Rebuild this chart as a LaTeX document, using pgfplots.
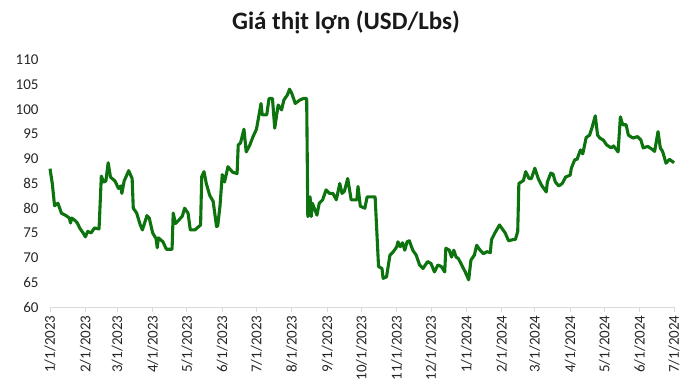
\documentclass[border=0pt]{standalone}
\usepackage{fontspec}
\setmainfont{Carlito}
\usepackage{pgfplots}
\pgfplotsset{compat=1.18}
\definecolor{lg}{RGB}{12,115,14}
\definecolor{axc}{RGB}{217,217,217}
\begin{document}
\begin{tikzpicture}
\path[use as bounding box] (-50pt,-83pt) rectangle (650pt,307pt);
\begin{axis}[
  at={(0pt,0pt)}, anchor=south west,
  scale only axis, width=624pt, height=247pt,
  xmin=0, xmax=547, ymin=60, ymax=110,
  axis x line=bottom, axis y line=left,
  x axis line style={-, draw=axc, line width=0.8pt},
  y axis line style={draw=none},
  ytick={60,65,...,110},
  xtick={0,31,59,90,120,151,181,212,243,273,304,334,365,396,425,456,486,517,547},
  xticklabels={1/1/2023,2/1/2023,3/1/2023,4/1/2023,5/1/2023,6/1/2023,7/1/2023,8/1/2023,9/1/2023,10/1/2023,11/1/2023,12/1/2023,1/1/2024,2/1/2024,3/1/2024,4/1/2024,5/1/2024,6/1/2024,7/1/2024},
  tick align=outside, major tick length=5pt,
  xtick style={draw=axc, line width=0.8pt},
  ytick style={draw=none},
  x tick label style={rotate=90, anchor=east, font=\fontsize{15}{15}\selectfont, text=black!85},
  y tick label style={anchor=east, xshift=-3pt, font=\fontsize{15}{15}\selectfont, text=black!85},
  /pgf/number format/assume math mode=true,
  clip=false,
]
\addplot[lg, line width=3.1pt, line join=round] table {
0 88.0
2 85
4 80.5
7 81
10 79
14 78.5
17 78
18 77
19 78
22 77.5
24 77
26 76
29 75
31 74.2
33 75.3
36 75
39 76
43 75.8
45 86.5
47 85.3
49 85.5
51 89.2
53 86.3
57 85.5
60 84
62 84.5
63 83
65 85.5
69 87.6
72 86
73 80
76 79
79 76.7
81 75.6
85 78.5
87 78
89 76
90 75
93 73.8
94 72
95 74
99 73.2
102 71.7
107 71.7
108 79
110 76.9
113 77.6
116 78.4
118 80
121 79
123 75.6
127 75.6
132 76.6
133 86.4
135 87.4
137 85
140 82.6
143 81.4
146 76.3
147 76.4
149 80.4
151 86.8
153 85.3
156 88.4
160 87.3
164 87.0
165 92.8
167 93.2
170 96
172 91.4
175 92.7
178 94.5
181 96
185 101.2
186 98.9
190 98.9
192 102.2
195 102.2
197 96.2
200 100.9
203 99.9
205 101.9
208 102.9
210 104.1
212 103.2
215 101.2
219 101.9
222 102.2
225 102.2
226 78.3
228 82.3
229 78.3
230 81
234 78.6
236 81
239 81.7
242 83.7
245 83
248 83
251 81.7
254 85
256 83
258 83.4
261 86
264 81.7
269 81.7
270 84.4
272 80.4
276 80
278 82.3
285 82.3
288 68.2
291 67.8
292 65.8
295 66.1
298 70.5
301 71.2
304 72.2
305 73.2
307 72.2
309 73
311 71.5
313 73.2
315 73.4
318 71.5
321 70.5
324 68.5
327 67.8
331 69.2
334 68.8
337 67.1
340 68.5
343 68.2
346 67.1
347 71.9
350 71.5
352 70.1
354 71.5
356 70.1
358 69.8
364 67.1
367 65.5
369 69.5
372 70.5
374 72.5
377 71.5
380 70.8
383 71.2
386 71.0
387 73.6
390 75.0
394 76.6
399 75
402 73.4
405 73.6
408 73.7
410 75.3
411 85
413 85.3
415 85.6
417 87.4
420 86
422 86
425 88.1
428 86
431 84.6
435 83.3
436 85.3
439 87.1
441 86.9
443 85.3
446 84.5
449 85
452 86.3
456 86.7
457 88.1
460 89.8
462 89.9
465 91.8
467 91
470 94.3
473 94.8
475 96.2
478 98.7
480 94.8
482 94.2
485 93.8
488 92.8
492 92.2
494 92.6
498 91.4
500 98.5
502 96.9
505 96.9
507 94.8
511 94.2
515 94.5
518 93.8
520 92.2
524 92.5
528 91.9
530 91.5
533 95.5
535 92.2
537 91.5
540 89.1
543 89.9
547 89.2
};
\end{axis}
\node[font=\bfseries\fontsize{25}{25}\selectfont, text=black!90] at (296pt,285pt) {Giá thịt lợn (USD/Lbs)};
\end{tikzpicture}
\end{document}
